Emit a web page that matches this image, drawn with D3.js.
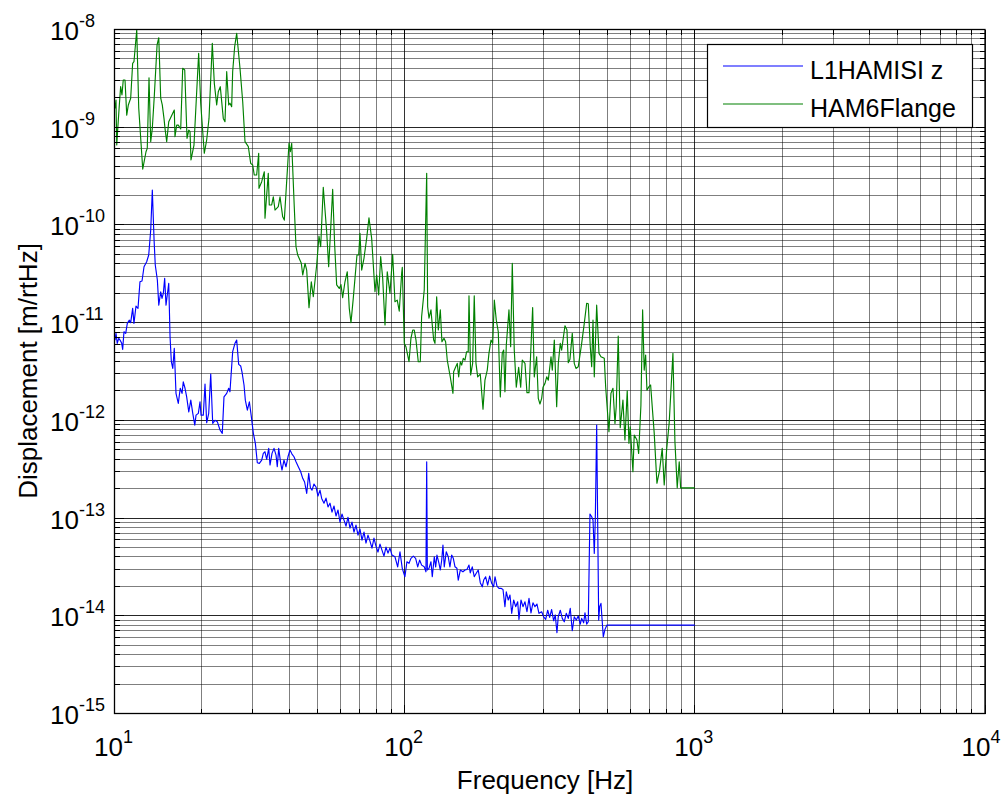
<!DOCTYPE html>
<html>
<head>
<meta charset="utf-8">
<script src="https://cdn.jsdelivr.net/npm/d3@7"></script>
<style>
  body { margin: 0; background: #fff; }
  svg { display: block; }
  text { font-family: "Liberation Sans", Arial, Helvetica, sans-serif; fill: #000; }
</style>
</head>
<body>
<svg id="chart" width="1003" height="797"></svg>
<script>
// Amplitude spectral density, [frequency Hz, displacement m/rtHz]
const hamisiZ = [
  [10.04,6.63e-12],[10.12,7.77e-12],[10.22,6.14e-12],[10.34,6.91e-12],[10.45,6.63e-12],[10.59,6.14e-12],
  [10.67,5.33e-12],[10.78,8.07e-12],[10.93,7.77e-12],[11.07,9.83e-12],[11.25,1.06e-11],[11.37,1.0e-11],
  [11.55,1.40e-11],[11.67,9.83e-12],[11.86,1.48e-11],[12.05,1.40e-11],[12.24,2.62e-11],[12.44,2.67e-11],
  [12.64,3.73e-11],[12.91,4.20e-11],[13.12,4.92e-11],[13.33,8.87e-11],[13.50,2.28e-10],[13.69,7.01e-11],
  [13.82,3.89e-11],[14.05,2.73e-11],[14.21,1.51e-11],[14.43,2.07e-11],[14.58,1.77e-11],[14.73,1.99e-11],
  [14.89,2.84e-11],[15.05,1.51e-11],[15.20,1.92e-11],[15.38,2.52e-11],[15.54,7.17e-12],[15.70,3.98e-12],
  [15.88,3.40e-12],[16.07,5.46e-12],[16.29,1.89e-12],[16.59,1.49e-12],[16.85,2.13e-12],[17.09,1.89e-12],
  [17.26,2.48e-12],[17.50,2.13e-12],[17.73,1.74e-12],[18.03,1.22e-12],[18.32,1.61e-12],[18.61,1.18e-12],
  [18.91,8.95e-13],[19.10,1.13e-12],[19.45,1.18e-12],[19.71,1.55e-12],[19.87,1.13e-12],[20.23,1.13e-12],
  [20.51,2.35e-12],[20.78,9.45e-13],[21.12,1.18e-12],[21.46,2.98e-12],[21.80,9.32e-13],[22.20,1.0e-12],
  [22.61,9.7e-13],[23.10,7.96e-13],[23.52,7.36e-13],[23.84,1.74e-12],[24.36,1.89e-12],[24.75,2.13e-12],
  [25.00,1.96e-12],[25.54,5.04e-12],[26.01,6.14e-12],[26.37,6.63e-12],[26.79,3.74e-12],[27.22,3.60e-12],
  [27.50,3.14e-12],[27.95,2.30e-12],[28.24,1.61e-12],[28.70,1.27e-12],[29.16,1.55e-12],[29.62,1.09e-12],
  [30.10,7.36e-13],[30.58,5.82e-13],[31.06,3.68e-13],[31.56,3.63e-13],[32.16,3.92e-13],[32.57,4.59e-13],
  [33.01,4.77e-13],[33.46,3.99e-13],[34.00,5.17e-13],[34.35,3.49e-13],[34.90,4.59e-13],[35.46,5.17e-13],
  [36.03,4.41e-13],[36.39,3.35e-13],[36.80,5.17e-13],[37.39,3.63e-13],[37.78,3.10e-13],[38.38,3.92e-13],
  [38.99,3.35e-13],[39.62,4.24e-13],[40.25,4.97e-13],[40.90,4.52e-13],[41.55,4.24e-13],[42.22,3.77e-13],
  [43.00,3.35e-13],[43.82,2.98e-13],[44.53,2.55e-13],[45.20,2.34e-13],[45.96,1.79e-13],[46.70,2.87e-13],
  [47.35,2.03e-13],[47.93,1.93e-13],[48.70,2.23e-13],[49.48,2.08e-13],[50.26,1.68e-13],[51.07,1.93e-13],
  [51.76,1.59e-13],[52.72,1.42e-13],[53.57,1.60e-13],[54.43,1.30e-13],[55.29,1.42e-13],[56.18,1.15e-13],
  [57.08,1.33e-13],[57.99,1.05e-13],[58.92,1.21e-13],[59.86,9.10e-14],[60.81,1.10e-13],[61.79,9.54e-14],
  [62.78,8.28e-14],[63.78,1.02e-13],[64.79,7.90e-14],[65.83,9.10e-14],[66.89,7.19e-14],[67.96,8.48e-14],
  [69.05,6.70e-14],[70.15,7.72e-14],[71.28,5.95e-14],[72.42,7.19e-14],[73.57,5.55e-14],[74.75,6.70e-14],
  [75.93,5.81e-14],[77.15,4.93e-14],[78.38,6.24e-14],[79.63,5.17e-14],[80.91,4.49e-14],[82.21,5.42e-14],
  [83.52,4.70e-14],[84.86,4.08e-14],[86.22,5.05e-14],[87.60,4.38e-14],[88.99,4.93e-14],[90.42,4.18e-14],
  [92.58,4.02e-14],[94.60,3.17e-14],
  [96.35,4.52e-14],[98.11,3.06e-14],[100.2,2.51e-14],[101.8,3.57e-14],[103.5,3.44e-14],[105.1,3.87e-14],
  [107.1,4.08e-14],[109.1,3.87e-14],[110.9,3.17e-14],[112.6,3.72e-14],[114.4,3.30e-14],[116.8,3.17e-14],
  [118.4,2.82e-14],[119.1,3.77e-13],[119.7,2.94e-14],[121.3,3.06e-14],[123.2,3.57e-14],[124.5,2.51e-14],
  [126.5,4.02e-14],[127.9,3.17e-14],[129.2,4.18e-14],[131.3,3.44e-14],[132.7,2.94e-14],[134.2,3.72e-14],
  [135.5,5.29e-14],[136.9,3.17e-14],[139.1,4.52e-14],[141.3,4.02e-14],[143.2,3.17e-14],[145.2,4.18e-14],
  [147.1,3.87e-14],[149.1,3.17e-14],[151.4,3.06e-14],[153.0,2.32e-14],[155.5,2.94e-14],[158.8,2.82e-14],
  [161.4,2.94e-14],[163.9,2.98e-14],[166.6,3.30e-14],[168.3,2.75e-14],[171.0,3.17e-14],[173.7,2.51e-14],
  [176.5,2.72e-14],[179.3,2.94e-14],[182.2,2.18e-14],[185.1,1.98e-14],[187.2,2.32e-14],[190.1,2.51e-14],
  [193.2,2.06e-14],[196.3,2.55e-14],[199.5,2.15e-14],[202.6,1.98e-14],[204.8,2.51e-14],[208.0,2.01e-14],
  [211.4,1.91e-14],[214.7,1.91e-14],[218.2,1.86e-14],[221.6,1.24e-14],[224.0,1.76e-14],[227.5,1.45e-14],
  [230.6,1.63e-14],[233.8,1.06e-14],[237.5,1.45e-14],[241.3,1.24e-14],[245.2,1.39e-14],[247.7,9.19e-15],
  [251.7,1.45e-14],[255.7,1.24e-14],[259.8,1.39e-14],[263.9,1.10e-14],[268.2,1.51e-14],[272.5,1.07e-14],
  [276.8,1.36e-14],[281.2,1.24e-14],[285.7,1.32e-14],[290.3,1.06e-14],[296.6,1.10e-14],[301.3,9.77e-15],
  [306.2,9.19e-15],[311.1,1.14e-14],[316.0,9.63e-15],[321.0,1.16e-14],[326.2,8.89e-15],[330.4,1.02e-14],
  [334.8,6.70e-15],[338.3,9.77e-15],[343.8,1.14e-14],[349.3,9.41e-15],[354.8,8.68e-15],[360.5,1.06e-14],
  [366.3,9.41e-15],[372.1,1.19e-14],[378.1,7.03e-15],[384.1,9.77e-15],[390.3,9.04e-15],[396.5,9.93e-15],
  [402.9,8.22e-15],[407.4,9.41e-15],[413.9,8.48e-15],[418.2,1.07e-14],[423.9,8.22e-15],[429.3,8.68e-15],
  [435.1,1.10e-13],[441.1,1.03e-13],[445.7,9.54e-14],[450.3,4.35e-14],[453.9,9.54e-14],[458.9,8.95e-13],
  [466.3,9.04e-15],[469.9,1.24e-14],[474.8,1.34e-14],[483.6,6.10e-15],[490.1,7.26e-15],[498.0,8.03e-15],
  [1000,8.03e-15]
];

const ham6Flange = [
  [10.04,1.56e-9],[10.12,1.90e-9],[10.18,6.57e-10],[10.28,1.05e-9],[10.39,1.69e-9],[10.50,2.60e-9],
  [10.61,2.14e-9],[10.72,3.04e-9],[10.87,3.04e-9],[11.02,1.33e-9],[11.16,1.69e-9],[11.37,1.98e-9],
  [11.55,4.51e-9],[11.67,4.68e-9],[11.93,9.9e-9],[12.12,1.57e-9],[12.51,3.73e-10],[12.84,5.61e-10],
  [12.97,6.08e-10],[13.15,3.21e-9],[13.33,7.11e-10],[13.50,9.74e-10],[13.72,2.14e-9],[14.02,6.94e-9],
  [14.21,8.24e-9],[14.43,1.98e-9],[14.61,1.69e-9],[14.81,1.23e-9],[14.93,9.74e-10],[15.13,7.11e-10],
  [15.38,1.14e-9],[16.07,1.50e-9],[16.16,8.0e-10],[16.38,1.05e-9],[16.59,1.05e-9],[16.91,9.59e-10],
  [17.18,4.01e-9],[17.46,3.85e-9],[17.78,7.70e-10],[18.03,9.36e-10],[18.21,9.0e-10],[18.35,4.62e-10],
  [18.79,6.57e-10],[19.50,5.71e-9],[19.82,1.76e-9],[20.39,5.41e-10],[20.78,7.40e-10],[21.17,1.23e-9],
  [21.73,7.22e-9],[22.08,2.81e-9],[22.50,1.69e-9],[22.79,2.31e-9],[23.15,2.60e-9],[23.71,1.23e-9],
  [24.03,1.14e-9],[24.36,3.70e-9],[24.75,1.69e-9],[25.00,1.76e-9],[25.34,1.62e-9],[25.54,3.70e-9],
  [25.95,6.67e-9],[26.37,9.14e-9],[27.07,4.01e-9],[27.66,1.82e-9],[28.17,7.11e-10],[28.92,6.32e-10],
  [29.47,4.27e-10],[29.94,4.10e-10],[30.32,3.24e-10],[30.90,3.24e-10],[31.40,5.41e-10],[31.47,2.37e-10],
  [32.16,2.77e-10],[32.83,3.50e-10],[33.01,1.17e-10],[33.88,3.37e-10],[34.15,1.60e-10],[34.81,1.60e-10],
  [35.26,1.94e-10],[35.74,1.42e-10],[36.68,1.54e-10],[37.19,1.94e-10],[37.99,1.21e-10],[38.48,1.12e-10],
  [39.94,6.84e-10],[40.36,5.61e-10],[40.80,6.84e-10],[41.66,1.48e-10],[42.22,5.98e-11],[42.80,4.92e-11],
  [44.04,4.05e-11],[44.53,3.07e-11],[45.35,4.05e-11],[45.96,3.45e-11],[46.81,1.42e-11],[47.67,2.62e-11],
  [48.43,1.84e-11],[49.75,3.89e-11],[50.66,7.70e-11],[51.35,5.98e-11],[52.42,2.43e-10],[53.85,8.52e-11],
  [54.71,3.73e-11],[55.59,9.08e-11],[56.48,2.31e-10],[57.38,6.23e-11],[58.30,2.43e-11],[59.51,2.24e-11],
  [60.32,2.45e-11],[61.14,1.80e-11],[62.27,2.62e-11],[63.42,3.32e-11],[64.43,1.40e-11],[65.31,1.0e-11],
  [66.51,1.77e-11],[68.49,4.92e-11],[69.43,4.92e-11],[70.15,8.20e-11],[71.10,3.45e-11],[72.40,4.55e-11],
  [73.96,7.29e-11],[75.33,1.18e-10],[76.96,7.29e-11],[79.01,2.07e-11],[80.08,3.07e-11],[81.36,1.92e-11],
  [82.67,4.73e-11],[84.00,2.84e-11],[85.55,9.45e-12],[87.10,3.32e-11],[88.99,1.99e-11],[90.91,5.0e-11],
  [92.58,1.64e-11],[94.28,1.70e-11],[95.80,1.31e-11],[97.65,3.20e-11],[98.13,3.68e-11],[99.69,6.14e-12],
  [101.0,5.67e-12],[103.5,3.98e-12],[105.1,6.91e-12],[106.6,8.40e-12],[107.9,8.40e-12],[109.4,6.63e-12],
  [111.4,3.98e-12],[113.2,3.98e-12],[114.4,1.15e-11],[116.8,2.16e-11],[119.1,3.37e-10],[120.0,1.46e-11],
  [121.3,1.11e-11],[123.2,1.35e-11],[124.5,9.45e-12],[125.9,6.63e-12],[127.2,6.14e-12],[128.9,1.84e-11],
  [130.6,8.40e-12],[132.7,1.35e-11],[134.4,6.38e-12],[136.6,6.91e-12],[138.4,6.38e-12],[140.2,4.14e-12],
  [143.6,2.79e-12],[146.7,1.89e-12],[147.5,3.14e-12],[149.1,3.40e-12],[151.8,3.83e-12],[153.5,2.79e-12],
  [155.5,3.98e-12],[157.2,3.68e-12],[159.2,4.31e-12],[161.4,4.14e-12],[163.5,5.04e-12],[165.6,5.04e-12],
  [166.6,1.88e-11],[168.8,2.91e-12],[171.5,3.83e-12],[173.7,1.88e-11],[176.1,3.83e-12],[178.5,2.79e-12],
  [182.2,2.98e-12],[186.2,1.30e-12],[189.1,2.58e-12],[192.6,3.27e-12],[195.2,4.85e-12],[198.4,6.63e-12],
  [201.1,6.14e-12],[203.7,1.70e-11],[206.9,1.06e-11],[210.2,8.07e-12],[213.6,1.74e-12],[216.9,4.85e-12],
  [219.4,5.24e-12],[221.6,1.96e-12],[224.0,5.90e-12],[228.8,1.35e-11],[231.9,5.67e-12],[234.9,4.05e-11],
  [238.6,5.24e-12],[242.5,2.18e-12],[247.1,3.49e-12],[251.1,2.18e-12],[254.3,4.14e-12],[259.8,3.83e-12],
  [263.9,1.92e-12],[268.2,1.92e-12],[276.1,1.43e-11],[279.7,2.79e-12],[285.0,4.48e-12],[288.7,1.68e-12],
  [292.6,1.47e-12],[296.6,1.68e-12],[299.7,2.18e-12],[304.5,2.39e-12],[308.7,2.79e-12],[312.6,2.58e-12],
  [319.4,4.48e-12],[322.7,3.27e-12],[327.9,6.63e-12],[334.1,1.38e-12],[338.4,3.83e-12],[343.8,6.14e-12],
  [347.5,5.24e-12],[356.8,9.30e-12],[362.5,8.40e-12],[366.3,3.89e-12],[371.2,4.21e-12],[378.1,7.77e-12],
  [384.1,3.83e-12],[389.4,3.40e-12],[396.5,3.54e-12],[407.4,6.14e-12],[415.9,9.83e-12],[423.9,1.58e-11],
  [429.3,1.56e-11],[436.2,5.67e-12],[441.1,3.54e-12],[445.7,1.06e-11],[450.3,2.79e-12],[458.9,1.51e-11],
  [467.4,4.85e-12],[474.8,4.48e-12],[487.4,4.31e-12],[492.8,2.21e-12],[505.8,7.64e-13],[513.9,1.89e-12],
  [522.2,2.13e-12],[530.6,9.32e-13],[535.9,1.38e-12],[544.5,7.29e-12],[553.2,8.40e-13],[565.2,1.61e-12],
  [574.3,6.29e-13],[584.8,2.01e-12],[592.8,5.82e-13],[598.9,8.60e-13],[611.8,2.98e-13],[618.2,7.07e-13],
  [631.6,6.29e-13],[640.2,4.59e-13],[651.9,1.43e-12],[660.8,1.35e-11],[669.1,3.27e-12],[676.8,4.66e-12],
  [683.8,2.04e-12],[694.7,2.21e-12],[704.1,2.30e-12],[724.5,7.36e-13],[740.2,2.27e-13],[756.2,3.10e-13],
  [771.9,5.17e-13],[784.3,2.18e-13],[799.3,4.97e-13],[815.9,9.45e-13],[840.4,4.85e-12],[853.9,6.04e-13],
  [869.5,2.04e-13],[883.5,3.77e-13],[893.3,2.04e-13],[1000,2.04e-13]
];

const seriesNames = ["L1HAMISI z", "HAM6Flange"];
const seriesColors = ["#0000ff", "#008000"];
const xTickPowers = [1, 2, 3, 4];
const yTickPowers = [-15, -14, -13, -12, -11, -10, -9, -8];
const xTitle = "Frequency [Hz]";
const yTitle = "Displacement [m/rtHz]";

const W = 1003, H = 797;
const box = { left: 114.5, right: 985, top: 29.5, bottom: 713.5 };

const x = d3.scaleLog().domain([1e1, 1e4]).range([box.left, box.right]);
const y = d3.scaleLog().domain([1e-15, 1e-8]).range([box.bottom, box.top]);

const svg = d3.select("#chart");
svg.append("rect").attr("width", W).attr("height", H).attr("fill", "#fff");

// every 1..9 x 10^k position inside each domain
function logPositions(lo, hi) {
  const out = [];
  for (let k = lo; k < hi; k++) {
    for (let m = 1; m <= 9; m++) out.push({ v: m * Math.pow(10, k), major: m === 1 });
  }
  out.push({ v: Math.pow(10, hi), major: true });
  return out;
}
const xPos = logPositions(1, 4);
const yPos = logPositions(-15, -8);
const snap = p => Math.round(p - 0.5) + 0.5;

// grid: minor lines lighter than decade lines
const grid = svg.append("g").attr("shape-rendering", "crispEdges");
grid.selectAll("line.gx").data(xPos).join("line")
  .attr("x1", d => snap(x(d.v))).attr("x2", d => snap(x(d.v)))
  .attr("y1", box.top).attr("y2", box.bottom)
  .attr("stroke", "#000")
  .attr("stroke-opacity", d => d.major ? 0.8 : 0.5);
grid.selectAll("line.gy").data(yPos).join("line")
  .attr("y1", d => snap(y(d.v))).attr("y2", d => snap(y(d.v)))
  .attr("x1", box.left).attr("x2", box.right)
  .attr("stroke", "#000")
  .attr("stroke-opacity", d => d.major ? 0.85 : 0.5);

// data
svg.append("clipPath").attr("id", "plotClip").append("rect")
  .attr("x", box.left).attr("y", box.top - 1)
  .attr("width", box.right - box.left).attr("height", box.bottom - box.top + 1);
const line = d3.line().x(d => x(d[0])).y(d => y(d[1]));
const plotG = svg.append("g").attr("clip-path", "url(#plotClip)");
[hamisiZ, ham6Flange].forEach((s, i) => {
  plotG.append("path").datum(s).attr("d", line)
    .attr("fill", "none").attr("stroke", seriesColors[i])
    .attr("stroke-width", 1.15).attr("stroke-linejoin", "round");
});

// ticks on all four sides, pointing inward
const ticks = svg.append("g").attr("stroke", "#000").attr("shape-rendering", "crispEdges");
xPos.forEach(d => {
  const px = snap(x(d.v)), len = d.major ? 9 : 5;
  ticks.append("line").attr("x1", px).attr("x2", px).attr("y1", box.bottom).attr("y2", box.bottom - len);
  ticks.append("line").attr("x1", px).attr("x2", px).attr("y1", box.top).attr("y2", box.top + len);
});
yPos.forEach(d => {
  const py = snap(y(d.v)), len = d.major ? 9 : 5;
  ticks.append("line").attr("y1", py).attr("y2", py).attr("x1", box.left).attr("x2", box.left + len);
  ticks.append("line").attr("y1", py).attr("y2", py).attr("x1", box.right).attr("x2", box.right - len);
});
svg.append("rect").attr("x", box.left).attr("y", box.top)
  .attr("width", box.right - box.left).attr("height", box.bottom - box.top)
  .attr("fill", "none").attr("stroke", "#000").attr("stroke-width", 1.3);

// tick labels: 10 with superscript exponent
function powerLabel(sel, p) {
  sel.append("tspan").attr("font-size", 26).text("10");
  sel.append("tspan").attr("font-size", 18).attr("dy", -13).text(String(p));
}
xTickPowers.forEach(p => {
  const cx = Math.min(x(Math.pow(10, p)) - 1, W - 22);
  const t = svg.append("text").attr("x", cx).attr("y", 756).attr("text-anchor", "middle");
  powerLabel(t, p);
});
yTickPowers.forEach(p => {
  const t = svg.append("text").attr("x", 50).attr("y", y(Math.pow(10, p)) + 10.5);
  powerLabel(t, p);
});

// axis titles
svg.append("text").attr("x", 545).attr("y", 789).attr("text-anchor", "middle")
  .attr("font-size", 26).text(xTitle);
svg.append("text").attr("transform", "translate(37,371) rotate(-90)")
  .attr("text-anchor", "middle").attr("font-size", 26).text(yTitle);

// legend
const lg = svg.append("g");
lg.append("rect").attr("x", 707.5).attr("y", 44.5).attr("width", 265).attr("height", 83)
  .attr("fill", "#fff").attr("stroke", "#000").attr("stroke-width", 1.2);
seriesNames.forEach((name, i) => {
  const ly = 66 + i * 38;
  lg.append("line").attr("x1", 723).attr("x2", 803).attr("y1", ly).attr("y2", ly)
    .attr("stroke", seriesColors[i]).attr("stroke-width", 1.2);
  lg.append("text").attr("x", 810).attr("y", ly + 12.5).attr("font-size", 25).text(name);
});
</script>
</body>
</html>
